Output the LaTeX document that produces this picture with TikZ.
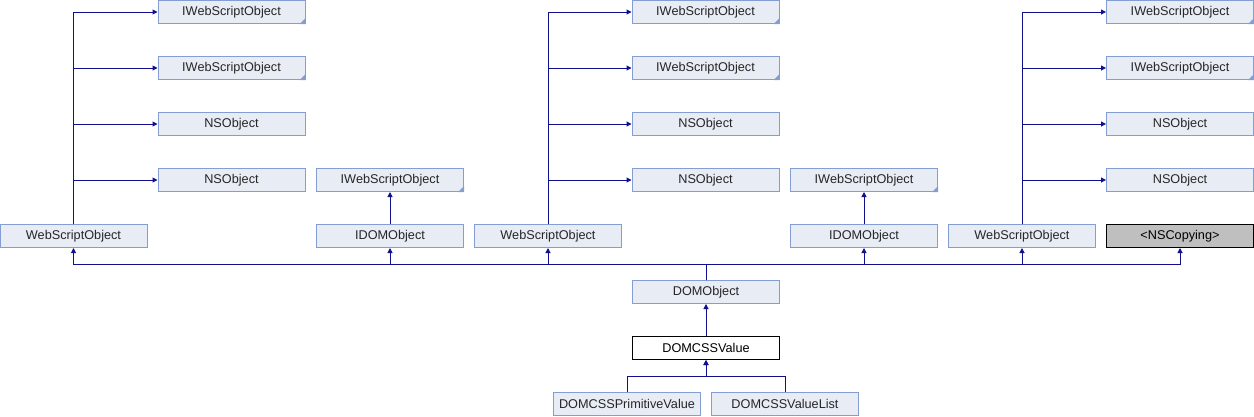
\documentclass[tikz,border=0pt]{standalone}
\usepackage{fontspec}
\setmainfont{Liberation Sans}
\usetikzlibrary{arrows.meta}
\definecolor{boxfill}{RGB}{232,236,245}
\definecolor{boxline}{RGB}{132,158,212}
\definecolor{edgecol}{RGB}{16,16,140}
\definecolor{grayfill}{RGB}{191,191,191}
\tikzset{
  cls/.style={draw=boxline, fill=boxfill, line width=1pt, minimum width=147pt, minimum height=23pt, inner sep=0pt, font=\fontsize{12.7}{14}\selectfont, text=black!85},
  plain/.style={draw=black, fill=white, line width=1pt, minimum width=147pt, minimum height=23pt, inner sep=0pt, font=\fontsize{12.7}{14}\selectfont},
  ext/.style={draw=black, fill=grayfill, line width=1pt, minimum width=147pt, minimum height=23pt, inner sep=0pt, font=\fontsize{12.7}{14}\selectfont},
  edge/.style={draw=edgecol, line width=1pt},
  arr/.style={edge, -{Triangle[length=5pt,width=5pt]}},
  foldmark/.style={fill=boxline}
}
\newcommand{\fold}[1]{\fill[foldmark] (#1.south east) -- ++(-6,0) -- ++(6,-6) -- cycle;}
\begin{document}
\begin{tikzpicture}[x=1pt,y=-1pt]
\useasboundingbox (0,0) rectangle (1254,416);
% column 1
\node[cls] (a1) at (231.5,12) {IWebScriptObject};
\node[cls] (a2) at (231.5,68) {IWebScriptObject};
\node[cls] (a3) at (231.5,124) {NSObject};
\node[cls] (a4) at (231.5,180) {NSObject};
\node[cls] (wso1) at (73.5,236) {WebScriptObject};
% IDOM 1
\node[cls] (iws1) at (390,180) {IWebScriptObject};
\node[cls] (idom1) at (390,236) {IDOMObject};
% column 2
\node[cls] (b1) at (705.5,12) {IWebScriptObject};
\node[cls] (b2) at (705.5,68) {IWebScriptObject};
\node[cls] (b3) at (705.5,124) {NSObject};
\node[cls] (b4) at (705.5,180) {NSObject};
\node[cls] (wso2) at (548,236) {WebScriptObject};
% IDOM 2
\node[cls] (iws2) at (864,180) {IWebScriptObject};
\node[cls] (idom2) at (864,236) {IDOMObject};
% column 3
\node[cls] (c1) at (1180,12) {IWebScriptObject};
\node[cls] (c2) at (1180,68) {IWebScriptObject};
\node[cls] (c3) at (1180,124) {NSObject};
\node[cls] (c4) at (1180,180) {NSObject};
\node[cls] (wso3) at (1022,236) {WebScriptObject};
\node[ext] (nscopy) at (1180,236) {<NSCopying>};
% lower
\node[cls] (domobj) at (706,292) {DOMObject};
\node[plain] (cssval) at (706,348) {DOMCSSValue};
\node[cls] (prim) at (627,404) {DOMCSSPrimitiveValue};
\node[cls] (vlist) at (785,404) {DOMCSSValueList};
% fold marks
\fold{a1}\fold{a2}\fold{b1}\fold{b2}\fold{c1}\fold{c2}\fold{iws1}\fold{iws2}
% upper edges
\foreach \p in {a1,a2,a3,a4} {\draw[arr] (wso1.north) |- (\p.west);}
\foreach \p in {b1,b2,b3,b4} {\draw[arr] (wso2.north) |- (\p.west);}
\foreach \p in {c1,c2,c3,c4} {\draw[arr] (wso3.north) |- (\p.west);}
\draw[arr] (idom1.north) -- (iws1.south);
\draw[arr] (idom2.north) -- (iws2.south);
% bus
\coordinate (bus) at (706,264);
\foreach \p in {wso1,idom1,wso2,idom2,wso3,nscopy} {\draw[arr] (domobj.north) -- (bus) -| (\p.south);}
\draw[arr] (cssval.north) -- (domobj.south);
\coordinate (bus2) at (706,376);
\draw[arr] (prim.north) |- (bus2) -- (cssval.south);
\draw[arr] (vlist.north) |- (bus2) -- (cssval.south);
\end{tikzpicture}
\end{document}
